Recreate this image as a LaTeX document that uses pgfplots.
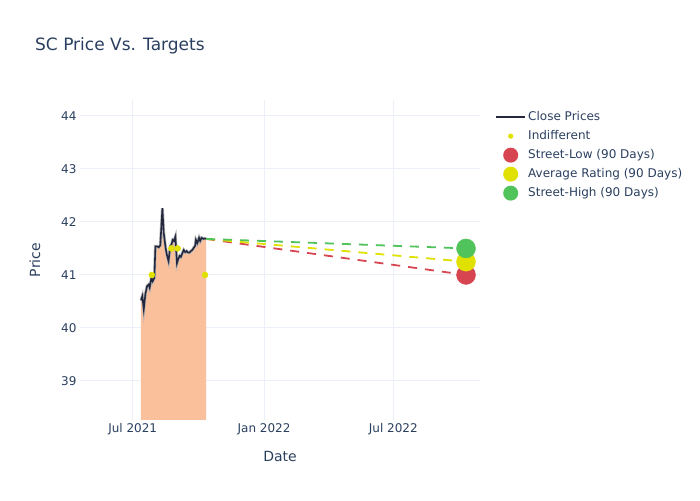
\documentclass[border=0pt]{standalone}
\usepackage{fontspec}
\setmainfont{DejaVu Sans}
\usepackage{pgfplots}
\usepackage{pgfplotstable}
\pgfplotsset{compat=1.18}
\definecolor{txt}{HTML}{2A3F5F}
\definecolor{gridc}{HTML}{EBF0F8}
\definecolor{navy}{RGB}{35,40,62}
\definecolor{fillc}{RGB}{250,192,156}
\definecolor{tred}{RGB}{215,70,80}
\definecolor{tyel}{RGB}{225,225,0}
\definecolor{tgrn}{RGB}{80,195,90}

\pgfplotstableread{
day price
11.6 40.52
13.5 40.60
15.5 40.35
17.8 40.64
20.1 40.79
22.4 40.82
23.8 40.76
26.2 40.95
28.0 40.88
30.4 40.95
31.8 41.54
34.2 41.54
36.4 41.52
38.7 41.56
40.2 41.92
41.6 42.26
43.4 41.80
45.8 41.54
47.5 41.40
50.2 41.26
52.6 41.54
54.5 41.58
56.0 41.66
57.8 41.64
59.8 41.72
61.2 41.40
62.0 41.22
63.8 41.30
65.8 41.36
67.5 41.34
69.8 41.42
71.5 41.47
73.5 41.43
75.6 41.45
77.5 41.42
79.5 41.42
81.5 41.45
83.5 41.47
85.9 41.52
87.5 41.55
88.5 41.66
90.5 41.60
92.9 41.70
94.5 41.64
96.5 41.70
98.9 41.68
101.0 41.69
102.7 41.68
}\pricetable

\begin{document}
\begin{tikzpicture}[x=1pt,y=1pt]
\useasboundingbox (0,0) rectangle (700,500);
\node[anchor=west, text=txt, font=\fontsize{17}{20}\selectfont, inner sep=0pt] at (35,454) {SC Price Vs. Targets};
\begin{axis}[
  at={(80pt,80pt)}, anchor=south west,
  scale only axis, width=400pt, height=320pt,
  xmin=-73.8, xmax=486.4, ymin=38.264, ymax=44.30,
  axis line style={draw=none},
  major tick style={draw=none},
  minor tick style={draw=none},
  xtick={0,184,365}, xticklabels={Jul 2021, Jan 2022, Jul 2022},
  ytick={39,40,41,42,43,44},
  grid=major, major grid style={draw=gridc, line width=1pt},
  ticklabel style={font=\fontsize{12}{14}\selectfont, text=txt},
  /pgf/number format/assume math mode=true,
  xlabel={Date}, ylabel={Price},
  label style={font=\fontsize{14}{16}\selectfont, text=txt},
  xlabel style={at={(axis description cs:0.5,-0.1125)}, anchor=center},
  ylabel style={at={(axis description cs:-0.1125,0.5)}, anchor=center},
  clip mode=individual,
  legend style={at={(axis description cs:1.0375,0.972)}, anchor=north west,
    draw=none, fill=none, font=\fontsize{12}{14}\selectfont, text=txt,
    inner sep=0pt, row sep=3pt,
    nodes={text height=9pt, text depth=3pt},
    /tikz/every even column/.append style={column sep=3pt}},
  legend cell align=left,
]
\addplot[fill=fillc, draw=none, forget plot] table[x=day,y=price] {\pricetable} \closedcycle;
\addplot[gray!55, line width=3pt, forget plot] table[x=day,y=price] {\pricetable};
\addplot[navy, line width=1.6pt,
  legend image code/.code={\draw[navy, line width=2pt] (0pt,0pt) -- (29pt,0pt);}]
  table[x=day,y=price] {\pricetable};
\addlegendentry{Close Prices}
\addplot[tred, line width=1.8pt, dash pattern=on 9pt off 8pt, forget plot] coordinates {(102.7,41.68) (466.8,41.0)};
\addplot[tyel, line width=1.8pt, dash pattern=on 9pt off 8pt, forget plot] coordinates {(102.7,41.68) (466.8,41.25)};
\addplot[tgrn, line width=1.8pt, dash pattern=on 9pt off 8pt, forget plot] coordinates {(102.7,41.68) (466.8,41.5)};
\addplot[tyel, only marks, mark=*, mark size=3pt, mark options={draw=tyel, fill=tyel},
  legend image code/.code={\path[draw=none] (0pt,0pt) -- (29pt,0pt); \fill[tyel, draw=none] (14.5pt,0pt) circle (2.6pt);}]
  coordinates {(26.8,41.0) (54.2,41.5) (63.0,41.5) (101.3,41.0)};
\addlegendentry{Indifferent}
\addplot[tred, only marks, mark=*, mark size=9.5pt, mark options={draw=tred, fill=tred},
  legend image code/.code={\path[draw=none] (0pt,0pt) -- (29pt,0pt); \fill[tred, draw=none] (14.5pt,0pt) circle (7.5pt);}]
  coordinates {(466.8,41.0)};
\addlegendentry{Street-Low (90 Days)}
\addplot[tyel, only marks, mark=*, mark size=9.5pt, mark options={draw=tyel, fill=tyel},
  legend image code/.code={\path[draw=none] (0pt,0pt) -- (29pt,0pt); \fill[tyel, draw=none] (14.5pt,0pt) circle (7.5pt);}]
  coordinates {(466.8,41.25)};
\addlegendentry{Average Rating (90 Days)}
\addplot[tgrn, only marks, mark=*, mark size=9.5pt, mark options={draw=tgrn, fill=tgrn},
  legend image code/.code={\path[draw=none] (0pt,0pt) -- (29pt,0pt); \fill[tgrn, draw=none] (14.5pt,0pt) circle (7.5pt);}]
  coordinates {(466.8,41.5)};
\addlegendentry{Street-High (90 Days)}
\end{axis}
\end{tikzpicture}
\end{document}
